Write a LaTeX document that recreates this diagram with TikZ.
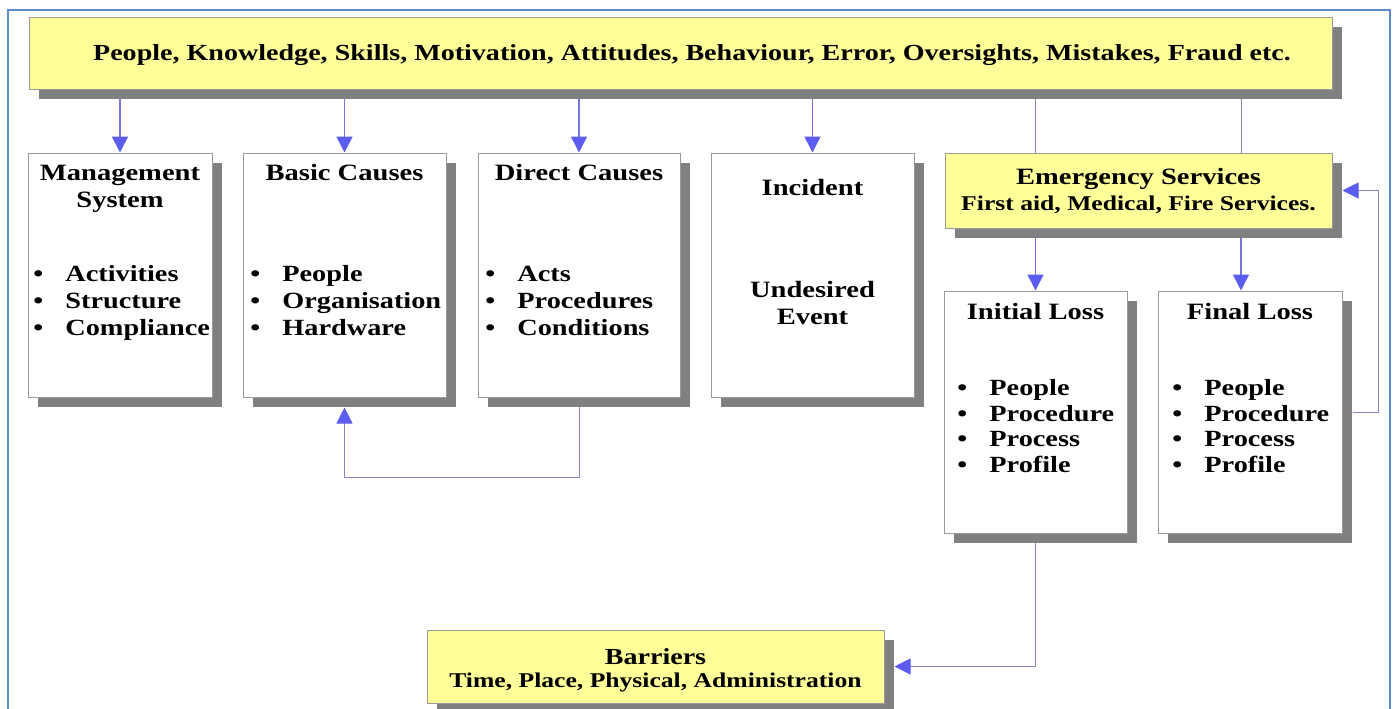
\documentclass[tikz,border=0pt]{standalone}
\usepackage{fontspec}
\setmainfont{Liberation Serif}[FakeStretch=1.22]
\usetikzlibrary{arrows.meta,shadows}
\definecolor{yellowfill}{HTML}{FFFF99}
\definecolor{boxline}{HTML}{9A9A9A}
\definecolor{shadowgray}{HTML}{808080}
\definecolor{shaft}{HTML}{8585C8}
\definecolor{topshaft}{HTML}{7474DC}
\definecolor{tipblue}{HTML}{5C5CF0}
\definecolor{frameblue}{HTML}{5B8CD2}
\pgfdeclarelayer{paper}
\pgfdeclarelayer{bg}
\pgfsetlayers{paper,bg,main}
\tikzset{
  plainbox/.style={draw=boxline, line width=0.5pt, fill=white, inner sep=0pt,
    drop shadow={shadow xshift=5pt, shadow yshift=-5pt, fill=shadowgray, opacity=1}},
  yellowbox/.style={plainbox, fill=yellowfill},
  title/.style={align=center, inner sep=0pt, font=\bfseries\fontsize{11.7}{13.5}\selectfont},
  bullets/.style={anchor=west, align=left, inner sep=0pt, font=\bfseries\fontsize{11.6}{13.5}\selectfont},
  arrowline/.style={draw=topshaft, line width=0.8pt, -{Triangle[width=8pt,length=8pt,color=tipblue]}},
  plainline/.style={draw=shaft, line width=0.5pt},
  backline/.style={draw=shaft, line width=0.5pt, -{Triangle[width=8pt,length=8pt,color=tipblue]}},
  frameline/.style={draw=frameblue, line width=1pt}
}
\newcommand{\itm}[1]{\makebox[16pt][l]{\textbullet}#1}
\begin{document}
\begin{tikzpicture}[x=0.5pt, y=-0.5pt]
\useasboundingbox (0,0) rectangle (1394,708);
\begin{pgfonlayer}{paper}
  \fill[white] (0,0) rectangle (1394,708);
  \draw[frameline] (8,10) rectangle (1390,760);
\end{pgfonlayer}

% factor band across the top
\node[yellowbox, minimum width=651.5pt, minimum height=36pt] (top) at (680.5,53) {};
\node[title, font=\bfseries\fontsize{11.5}{13}\selectfont] (topT) at (692,55)
  {People, Knowledge, Skills, Motivation, Attitudes, Behaviour, Error, Oversights, Mistakes, Fraud etc.};

% causal chain boxes
\node[plainbox, minimum width=92pt, minimum height=122pt] (mgmt) at (120,275) {};
\node[plainbox, minimum width=101.5pt, minimum height=122pt] (basic) at (344.5,275) {};
\node[plainbox, minimum width=101pt, minimum height=122pt] (direct) at (579,275) {};
\node[plainbox, minimum width=101.5pt, minimum height=122pt] (incident) at (812.5,275) {};

\node[yellowbox, minimum width=193.5pt, minimum height=37.5pt] (emerg) at (1138.5,190.5) {};
\node[title] (emergT) at (1138.5,179) {Emergency Services};
\node[title, font=\bfseries\fontsize{10.5}{12.5}\selectfont] (emergS) at (1138.5,205)
  {First aid, Medical, Fire Services.};

\node[plainbox, minimum width=91.5pt, minimum height=121pt] (initial) at (1035.5,412) {};
\node[plainbox, minimum width=92pt, minimum height=121pt] (final) at (1250,412) {};

\node[yellowbox, minimum width=228.5pt, minimum height=36.5pt] (barriers) at (655.5,666.5) {};
\node[title, font=\bfseries\fontsize{11.5}{13}\selectfont] (barT) at (655.5,657) {Barriers};
\node[title, font=\bfseries\fontsize{10.5}{12.5}\selectfont] (barS) at (655.5,682)
  {Time, Place, Physical, Administration};

% box contents
\node[title] (mgmtT) at (120,189) {Management\\System};
\node[bullets] (mgmtL) at (33,303) {\itm{Activities}\\\itm{Structure}\\\itm{Compliance}};
\node[title] (basicT) at (344.5,173) {Basic Causes};
\node[bullets] (basicL) at (250,301) {\itm{People}\\\itm{Organisation}\\\itm{Hardware}};
\node[title] (directT) at (579,173) {Direct Causes};
\node[bullets] (directL) at (485,301) {\itm{Acts}\\\itm{Procedures}\\\itm{Conditions}};
\node[title] (incT) at (812.5,187) {Incident};
\node[title] (undes) at (812.5,303) {Undesired\\Event};
\node[title] (initT) at (1035.5,311) {Initial Loss};
\node[bullets] (initL) at (957,426) {\itm{People}\\[-0.6pt]\itm{Procedure}\\[-0.6pt]\itm{Process}\\[-0.6pt]\itm{Profile}};
\node[title] (finT) at (1250,311) {Final Loss};
\node[bullets] (finL) at (1172,426) {\itm{People}\\[-0.6pt]\itm{Procedure}\\[-0.6pt]\itm{Process}\\[-0.6pt]\itm{Profile}};

\coordinate (fx) at (1241,0);
\coordinate (fb) at (1378,0);

\begin{pgfonlayer}{bg}
  \draw[arrowline] (top.south -| mgmt.north) -- (mgmt.north);
  \draw[arrowline] (top.south -| basic.north) -- (basic.north);
  \draw[arrowline] (top.south -| direct.north) -- (direct.north);
  \draw[arrowline] (top.south -| incident.north) -- (incident.north);
  \draw[plainline] (top.south -| initial.north) -- (emerg.north -| initial.north);
  \draw[plainline] (top.south -| fx) -- (emerg.north -| fx);
  \draw[arrowline] (emerg.south -| initial.north) -- (initial.north);
  \draw[arrowline] (emerg.south -| fx) -- (final.north -| fx);
  \draw[backline] (direct.south) -- ++(0,80) -| ([yshift=-5pt]basic.south);
  \draw[backline] (initial.south) |- ([xshift=5pt]barriers.east);
  \draw[backline] ([xshift=5pt]final.east) -- (final.east -| fb) |- ([xshift=5pt]emerg.east);
\end{pgfonlayer}
\end{tikzpicture}
\end{document}
